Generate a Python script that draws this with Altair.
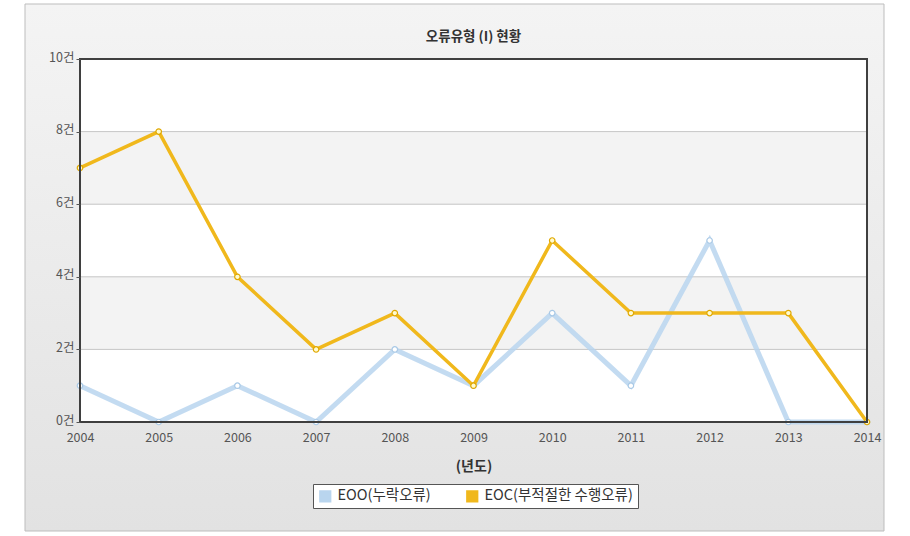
import altair as alt
import pandas as pd

years = [2004, 2005, 2006, 2007, 2008, 2009, 2010, 2011, 2012, 2013, 2014]
eoo = [1, 0, 1, 0, 2, 1, 3, 1, 5, 0, 0]
eoc = [7, 8, 4, 2, 3, 1, 5, 3, 3, 3, 0]
series_names = ["EOO(누락오류)", "EOC(부적절한 수행오류)"]
series_colors = ["#b9d5ee", "#f0b81c"]
band_low = [0, 2, 4, 6, 8]
band_high = [2, 4, 6, 8, 10]
band_fill = ["#ffffff", "#f3f3f3", "#ffffff", "#f3f3f3", "#ffffff"]
grid_vals = [2, 4, 6, 8]

W, H = 787, 363
FONT = "Noto Sans CJK KR"

df = pd.DataFrame({
    "year": years * 2,
    "value": eoo + eoc,
    "series": [series_names[0]] * len(years) + [series_names[1]] * len(years),
})
bands = pd.DataFrame({"y0": band_low, "y1": band_high, "fill": band_fill})
grid = pd.DataFrame({"v": grid_vals})
one = pd.DataFrame({"a": [0]})

xscale = alt.Scale(domain=[2004, 2014], nice=False, zero=False)
yscale = alt.Scale(domain=[0, 10], nice=False)
color_scale = alt.Scale(domain=series_names, range=series_colors)

panel = alt.Chart(one).mark_rect(
    fill=alt.Gradient(gradient="linear", x1=0, y1=0, x2=0, y2=1,
                      stops=[alt.GradientStop(color="#f4f4f4", offset=0),
                             alt.GradientStop(color="#e2e2e2", offset=1)]),
    stroke="#bdbdbd", strokeWidth=1,
).encode(x=alt.value(-55), x2=alt.value(804), y=alt.value(-55), y2=alt.value(472))

band_layer = alt.Chart(bands).mark_rect().encode(
    x=alt.value(0), x2=alt.value(W),
    y=alt.Y("y0:Q", scale=yscale, axis=alt.Axis(
        values=[0, 2, 4, 6, 8, 10], labelExpr="datum.value + '건'", title=None,
        grid=False, domain=False, ticks=True, tickColor="#555", tickSize=4,
        labelColor="#555", labelFontSize=12.5, labelFont=FONT, labelPadding=2,
        labelOffset=-2, zindex=1)),
    y2="y1:Q",
    fill=alt.Fill("fill:N", scale=None),
)

grid_layer = alt.Chart(grid).mark_rule(color="#c6c6c6", strokeWidth=1).encode(
    y=alt.Y("v:Q", scale=yscale), x=alt.value(0), x2=alt.value(W)
)

base = alt.Chart(df).encode(
    x=alt.X("year:Q", scale=xscale, axis=alt.Axis(
        values=years, format="d", title="(년도)", grid=False, domain=False,
        ticks=False, labelColor="#555", labelFontSize=12.5, labelFont=FONT,
        labelPadding=9, titleFont=FONT, titleFontSize=14, titleFontWeight="bold",
        titleColor="#333", titlePadding=16, labelFlush=False, zindex=1)),
    y=alt.Y("value:Q", scale=yscale),
)

legend = alt.Legend(
    title=None, orient="none", legendX=233, legendY=425, direction="horizontal",
    symbolType="square", symbolSize=150, labelFont=FONT, labelFontSize=14.5,
    labelColor="#333", strokeColor="#555", fillColor="#ffffff", padding=5,
    columnPadding=34, symbolStrokeWidth=0, labelOffset=5, symbolOpacity=1,
    labelLimit=300,
)

legend_layer = base.mark_square(size=0, opacity=0, filled=True).encode(
    color=alt.Color("series:N", scale=color_scale, legend=legend))

eoo_line = base.transform_filter(alt.datum.series == series_names[0]).mark_line(
    strokeWidth=5, opacity=0.85).encode(
    color=alt.Color("series:N", scale=color_scale, legend=None))
eoo_pts = base.transform_filter(alt.datum.series == series_names[0]).mark_point(
    filled=True, fill="#ffffff", stroke="#a9c9e6", strokeWidth=1.2, size=30, opacity=1)
eoc_line = base.transform_filter(alt.datum.series == series_names[1]).mark_line(
    strokeWidth=3.5).encode(color=alt.Color("series:N", scale=color_scale, legend=None))
eoc_pts = base.transform_filter(alt.datum.series == series_names[1]).mark_point(
    filled=True, fill="#fffbd0", stroke="#e0a800", strokeWidth=1.2, size=30, opacity=1)

border = alt.Chart(one).mark_rect(fill=None, stroke="#3f3f3f", strokeWidth=2).encode(
    x=alt.value(0), x2=alt.value(W), y=alt.value(0), y2=alt.value(H))

chart = alt.layer(panel, band_layer, grid_layer, legend_layer, eoo_line, eoo_pts,
                  eoc_line, eoc_pts, border).properties(
    width=W, height=H,
    title=alt.TitleParams("오류유형 (I) 현황", font=FONT, fontSize=13.5, fontWeight="bold",
                          color="#333", anchor="middle", offset=-40),
    autosize=alt.AutoSizeParams(type="none"),
    padding={"left": 80, "top": 59, "right": 43, "bottom": 114},
    background="#ffffff",
).configure_view(strokeWidth=0)

chart.save("out.html", embed_options={"renderer": "svg", "actions": False})
